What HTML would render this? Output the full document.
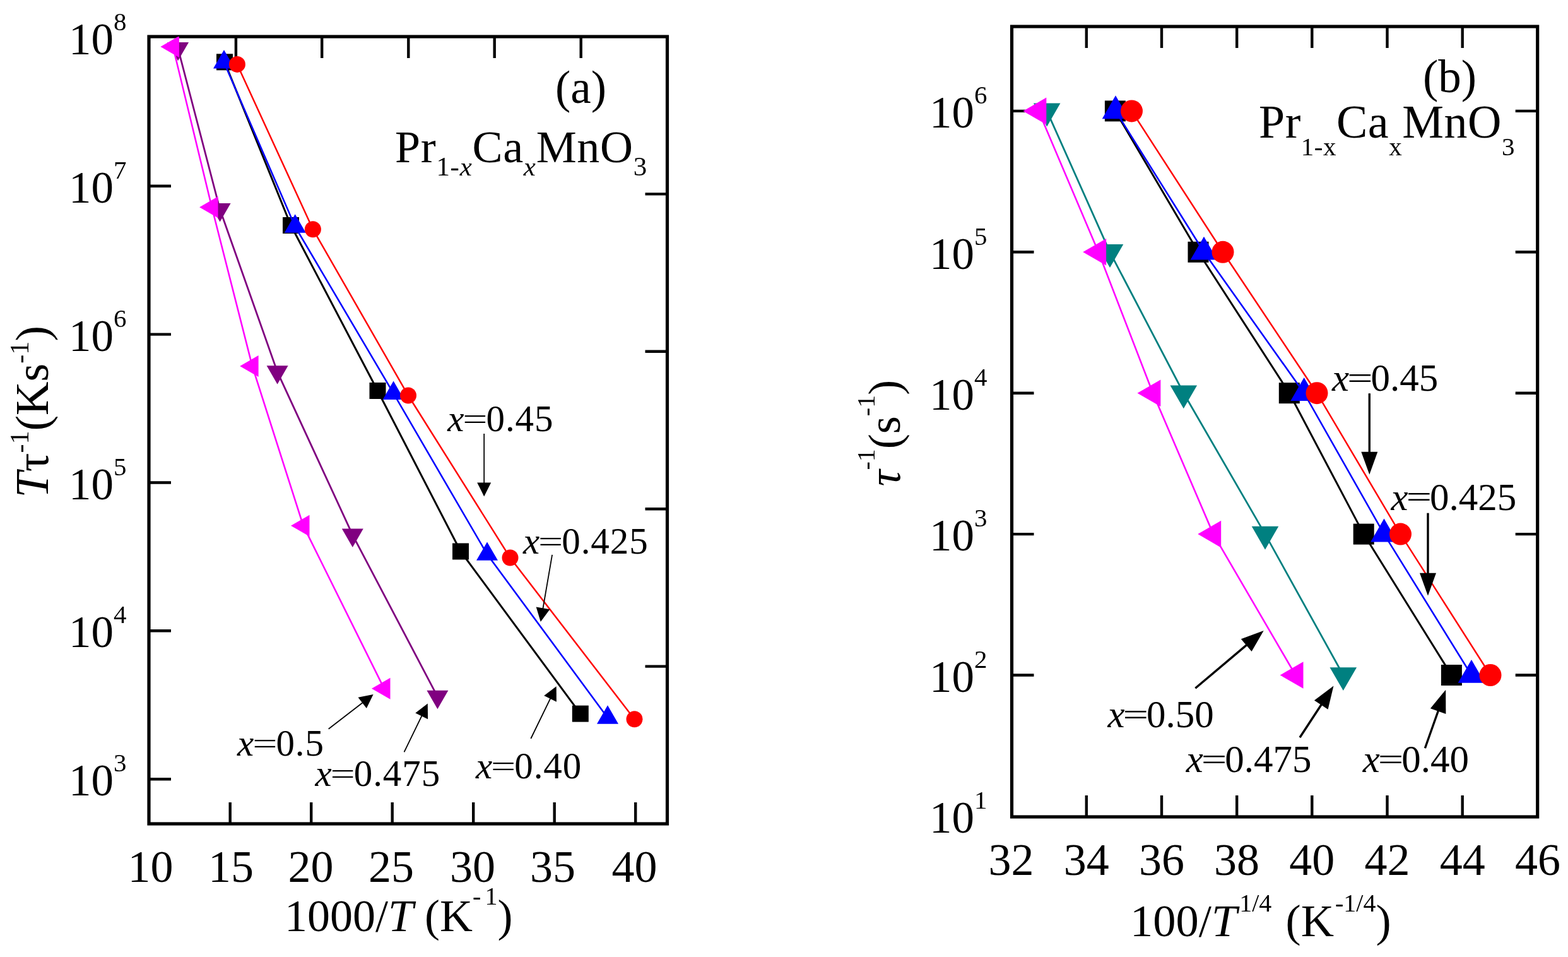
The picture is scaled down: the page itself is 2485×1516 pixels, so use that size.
<!DOCTYPE html>
<html><head><meta charset="utf-8"><title>Pr1-xCaxMnO3 relaxation rates</title>
<style>html,body{margin:0;padding:0;background:#fff;}svg{display:block;}</style></head>
<body>
<svg width="2485" height="1516" viewBox="0 0 2485 1516"><rect x="236" y="58" width="821.5" height="1247" fill="none" stroke="#000" stroke-width="5.2"/>
<rect x="1603.5" y="42" width="833.1999999999998" height="1252" fill="none" stroke="#000" stroke-width="5.2"/>
<g stroke="#000" stroke-width="4.4">
<line x1="364.7" y1="1305.0" x2="364.7" y2="1271.0"/>
<line x1="493.2" y1="1305.0" x2="493.2" y2="1271.0"/>
<line x1="621.7" y1="1305.0" x2="621.7" y2="1271.0"/>
<line x1="750.2" y1="1305.0" x2="750.2" y2="1271.0"/>
<line x1="878.7" y1="1305.0" x2="878.7" y2="1271.0"/>
<line x1="1007.2" y1="1305.0" x2="1007.2" y2="1271.0"/>
<line x1="373.9" y1="58.0" x2="373.9" y2="92.0"/>
<line x1="510.2" y1="58.0" x2="510.2" y2="92.0"/>
<line x1="647.3" y1="58.0" x2="647.3" y2="92.0"/>
<line x1="783.7" y1="58.0" x2="783.7" y2="92.0"/>
<line x1="920.7" y1="58.0" x2="920.7" y2="92.0"/>
<line x1="236.0" y1="294.8" x2="271.0" y2="294.8"/>
<line x1="236.0" y1="529.6" x2="271.0" y2="529.6"/>
<line x1="236.0" y1="764.5" x2="271.0" y2="764.5"/>
<line x1="236.0" y1="999.3" x2="271.0" y2="999.3"/>
<line x1="236.0" y1="1234.2" x2="271.0" y2="1234.2"/>
<line x1="1057.5" y1="307.4" x2="1022.5" y2="307.4"/>
<line x1="1057.5" y1="556.8" x2="1022.5" y2="556.8"/>
<line x1="1057.5" y1="806.2" x2="1022.5" y2="806.2"/>
<line x1="1057.5" y1="1055.6" x2="1022.5" y2="1055.6"/>
<line x1="1721.8" y1="1294.0" x2="1721.8" y2="1260.0"/>
<line x1="1721.8" y1="42.0" x2="1721.8" y2="76.0"/>
<line x1="1841.0" y1="1294.0" x2="1841.0" y2="1260.0"/>
<line x1="1841.0" y1="42.0" x2="1841.0" y2="76.0"/>
<line x1="1960.2" y1="1294.0" x2="1960.2" y2="1260.0"/>
<line x1="1960.2" y1="42.0" x2="1960.2" y2="76.0"/>
<line x1="2079.3" y1="1294.0" x2="2079.3" y2="1260.0"/>
<line x1="2079.3" y1="42.0" x2="2079.3" y2="76.0"/>
<line x1="2198.5" y1="1294.0" x2="2198.5" y2="1260.0"/>
<line x1="2198.5" y1="42.0" x2="2198.5" y2="76.0"/>
<line x1="2317.7" y1="1294.0" x2="2317.7" y2="1260.0"/>
<line x1="2317.7" y1="42.0" x2="2317.7" y2="76.0"/>
<line x1="1603.5" y1="175.9" x2="1638.5" y2="175.9"/>
<line x1="2436.7" y1="175.9" x2="2401.7" y2="175.9"/>
<line x1="1603.5" y1="399.3" x2="1638.5" y2="399.3"/>
<line x1="2436.7" y1="399.3" x2="2401.7" y2="399.3"/>
<line x1="1603.5" y1="622.7" x2="1638.5" y2="622.7"/>
<line x1="2436.7" y1="622.7" x2="2401.7" y2="622.7"/>
<line x1="1603.5" y1="846.1" x2="1638.5" y2="846.1"/>
<line x1="2436.7" y1="846.1" x2="2401.7" y2="846.1"/>
<line x1="1603.5" y1="1069.5" x2="1638.5" y2="1069.5"/>
<line x1="2436.7" y1="1069.5" x2="2401.7" y2="1069.5"/>
</g>
<g font-family="Liberation Serif, serif" font-size="72" fill="#000" text-anchor="middle">
<text x="238.5" y="1397">10</text>
<text x="366" y="1397">15</text>
<text x="492.5" y="1397">20</text>
<text x="620" y="1397">25</text>
<text x="749" y="1397">30</text>
<text x="876" y="1397">35</text>
<text x="1005.6" y="1397">40</text>
<text x="1602.6" y="1386">32</text>
<text x="1721.8" y="1386">34</text>
<text x="1841.0" y="1386">36</text>
<text x="1960.1" y="1386">38</text>
<text x="2079.3" y="1386">40</text>
<text x="2198.5" y="1386">42</text>
<text x="2317.7" y="1386">44</text>
<text x="2436.9" y="1386">46</text>
</g>
<text x="109" y="86.0" font-family="Liberation Serif, serif" font-size="71">10<tspan font-size="41" dy="-38">8</tspan></text>
<text x="109" y="320.8" font-family="Liberation Serif, serif" font-size="71">10<tspan font-size="41" dy="-38">7</tspan></text>
<text x="109" y="555.6" font-family="Liberation Serif, serif" font-size="71">10<tspan font-size="41" dy="-38">6</tspan></text>
<text x="109" y="790.5" font-family="Liberation Serif, serif" font-size="71">10<tspan font-size="41" dy="-38">5</tspan></text>
<text x="109" y="1025.3" font-family="Liberation Serif, serif" font-size="71">10<tspan font-size="41" dy="-38">4</tspan></text>
<text x="109" y="1260.2" font-family="Liberation Serif, serif" font-size="71">10<tspan font-size="41" dy="-38">3</tspan></text>
<text x="1473" y="202.2" font-family="Liberation Serif, serif" font-size="71">10<tspan font-size="41" dy="-38">6</tspan></text>
<text x="1473" y="425.6" font-family="Liberation Serif, serif" font-size="71">10<tspan font-size="41" dy="-38">5</tspan></text>
<text x="1473" y="649.0" font-family="Liberation Serif, serif" font-size="71">10<tspan font-size="41" dy="-38">4</tspan></text>
<text x="1473" y="872.4" font-family="Liberation Serif, serif" font-size="71">10<tspan font-size="41" dy="-38">3</tspan></text>
<text x="1473" y="1095.8" font-family="Liberation Serif, serif" font-size="71">10<tspan font-size="41" dy="-38">2</tspan></text>
<text x="1473" y="1319.2" font-family="Liberation Serif, serif" font-size="71">10<tspan font-size="41" dy="-38">1</tspan></text>
<clipPath id="ca"><rect x="236" y="58" width="821.5" height="1247"/></clipPath>
<clipPath id="cb"><rect x="1603.5" y="42" width="833.1999999999998" height="1252"/></clipPath>
<g clip-path="url(#ca)">
<polyline points="356.0,98.3 461.0,357.0 598.5,619.0 730.0,873.5 919.8,1130.6" fill="none" stroke="#000000" stroke-width="3.0"/>
<rect x="343.0" y="85.3" width="26" height="26" fill="#000000"/>
<rect x="448.0" y="344.0" width="26" height="26" fill="#000000"/>
<rect x="585.5" y="606.0" width="26" height="26" fill="#000000"/>
<rect x="717.0" y="860.5" width="26" height="26" fill="#000000"/>
<rect x="906.8" y="1117.6" width="26" height="26" fill="#000000"/>
<polyline points="355.0,98.7 467.7,358.9 623.6,623.2 772.0,878.0 963.0,1136.9" fill="none" stroke="#0000ff" stroke-width="2.6"/>
<polygon points="355.0,79.1 338.0,108.5 372.0,108.5" fill="#0000ff"/>
<polygon points="467.7,339.3 450.7,368.7 484.7,368.7" fill="#0000ff"/>
<polygon points="623.6,603.6 606.6,633.0 640.6,633.0" fill="#0000ff"/>
<polygon points="772.0,858.4 755.0,887.8 789.0,887.8" fill="#0000ff"/>
<polygon points="963.0,1117.3 946.0,1146.7 980.0,1146.7" fill="#0000ff"/>
<polyline points="375.9,101.9 495.9,363.2 647.0,626.5 808.5,883.5 1005.5,1139.3" fill="none" stroke="#ff0000" stroke-width="2.5"/>
<circle cx="375.9" cy="101.9" r="13.0" fill="#ff0000"/>
<circle cx="495.9" cy="363.2" r="13.0" fill="#ff0000"/>
<circle cx="647.0" cy="626.5" r="13.0" fill="#ff0000"/>
<circle cx="808.5" cy="883.5" r="13.0" fill="#ff0000"/>
<circle cx="1005.5" cy="1139.3" r="13.0" fill="#ff0000"/>
<polyline points="282.1,76.7 348.6,331.8 439.6,589.1 558.8,847.4 693.4,1103.6" fill="none" stroke="#800080" stroke-width="2.8"/>
<polygon points="282.1,96.3 265.1,66.9 299.1,66.9" fill="#800080"/>
<polygon points="348.6,351.4 331.6,322.0 365.6,322.0" fill="#800080"/>
<polygon points="439.6,608.7 422.6,579.3 456.6,579.3" fill="#800080"/>
<polygon points="558.8,867.1 541.8,837.6 575.8,837.6" fill="#800080"/>
<polygon points="693.4,1123.2 676.4,1093.8 710.4,1093.8" fill="#800080"/>
<polyline points="274.1,74.0 335.7,328.2 399.8,579.9 480.6,832.7 608.7,1090.7" fill="none" stroke="#ff00ff" stroke-width="2.6"/>
<polygon points="254.4,74.0 283.9,57.0 283.9,91.0" fill="#ff00ff"/>
<polygon points="316.1,328.2 345.5,311.2 345.5,345.2" fill="#ff00ff"/>
<polygon points="380.2,579.9 409.6,562.9 409.6,596.9" fill="#ff00ff"/>
<polygon points="461.0,832.7 490.5,815.7 490.5,849.7" fill="#ff00ff"/>
<polygon points="589.0,1090.7 618.5,1073.7 618.5,1107.7" fill="#ff00ff"/>
</g>
<g clip-path="url(#cb)">
<polyline points="1767.4,175.9 1899.0,399.3 2043.3,622.7 2161.2,846.1 2300.4,1069.5" fill="none" stroke="#000000" stroke-width="3.0"/>
<rect x="1750.9" y="159.4" width="33" height="33" fill="#000000"/>
<rect x="1882.5" y="382.8" width="33" height="33" fill="#000000"/>
<rect x="2026.8" y="606.2" width="33" height="33" fill="#000000"/>
<rect x="2144.7" y="829.6" width="33" height="33" fill="#000000"/>
<rect x="2283.9" y="1053.0" width="33" height="33" fill="#000000"/>
<polyline points="1768.0,175.9 1908.0,399.3 2066.7,622.7 2193.5,846.1 2332.0,1069.5" fill="none" stroke="#0000ff" stroke-width="2.6"/>
<polygon points="1768.0,151.3 1746.7,188.2 1789.3,188.2" fill="#0000ff"/>
<polygon points="1908.0,374.7 1886.7,411.6 1929.3,411.6" fill="#0000ff"/>
<polygon points="2066.7,598.1 2045.4,635.0 2088.0,635.0" fill="#0000ff"/>
<polygon points="2193.5,821.5 2172.2,858.4 2214.8,858.4" fill="#0000ff"/>
<polygon points="2332.0,1044.9 2310.7,1081.8 2353.3,1081.8" fill="#0000ff"/>
<polyline points="1793.5,175.9 1938.0,399.3 2087.0,622.7 2219.5,846.1 2362.0,1069.5" fill="none" stroke="#ff0000" stroke-width="2.5"/>
<circle cx="1793.5" cy="175.9" r="17.5" fill="#ff0000"/>
<circle cx="1938.0" cy="399.3" r="17.5" fill="#ff0000"/>
<circle cx="2087.0" cy="622.7" r="17.5" fill="#ff0000"/>
<circle cx="2219.5" cy="846.1" r="17.5" fill="#ff0000"/>
<circle cx="2362.0" cy="1069.5" r="17.5" fill="#ff0000"/>
<polyline points="1659.2,175.9 1759.0,399.3 1875.8,622.7 2005.0,846.1 2128.8,1069.5" fill="none" stroke="#008080" stroke-width="2.8"/>
<polygon points="1659.2,200.5 1637.9,163.6 1680.5,163.6" fill="#008080"/>
<polygon points="1759.0,423.9 1737.7,387.0 1780.3,387.0" fill="#008080"/>
<polygon points="1875.8,647.3 1854.5,610.4 1897.1,610.4" fill="#008080"/>
<polygon points="2005.0,870.7 1983.7,833.8 2026.3,833.8" fill="#008080"/>
<polygon points="2128.8,1094.1 2107.5,1057.2 2150.1,1057.2" fill="#008080"/>
<polyline points="1646.0,175.9 1740.8,399.3 1827.1,622.7 1922.9,846.1 2053.2,1069.5" fill="none" stroke="#ff00ff" stroke-width="2.6"/>
<polygon points="1621.4,175.9 1658.3,154.6 1658.3,197.2" fill="#ff00ff"/>
<polygon points="1716.2,399.3 1753.1,378.0 1753.1,420.6" fill="#ff00ff"/>
<polygon points="1802.5,622.7 1839.4,601.4 1839.4,644.0" fill="#ff00ff"/>
<polygon points="1898.3,846.1 1935.2,824.8 1935.2,867.4" fill="#ff00ff"/>
<polygon points="2028.6,1069.5 2065.5,1048.2 2065.5,1090.8" fill="#ff00ff"/>
</g>
<line x1="767.2" y1="687.0" x2="767.2" y2="766.5" stroke="#000" stroke-width="1.8"/><polygon points="767.2,786.5 756.2,764.5 778.2,764.5" fill="#000"/>
<line x1="875.1" y1="878.9" x2="860.2" y2="965.4" stroke="#000" stroke-width="1.8"/><polygon points="856.8,985.1 849.7,961.6 871.4,965.3" fill="#000"/>
<line x1="841.3" y1="1170.0" x2="872.9" y2="1105.2" stroke="#000" stroke-width="1.8"/><polygon points="881.7,1087.2 881.9,1111.8 862.2,1102.1" fill="#000"/>
<line x1="640.5" y1="1191.3" x2="669.1" y2="1132.6" stroke="#000" stroke-width="1.8"/><polygon points="677.8,1114.6 678.1,1139.2 658.3,1129.6" fill="#000"/>
<line x1="520.7" y1="1154.7" x2="575.8" y2="1112.2" stroke="#000" stroke-width="1.8"/><polygon points="591.6,1100.0 580.9,1122.1 567.5,1104.7" fill="#000"/>
<line x1="2170.3" y1="623.2" x2="2170.3" y2="717.7" stroke="#000" stroke-width="3.4"/><polygon points="2170.3,751.7 2157.3,715.7 2183.3,715.7" fill="#000"/>
<line x1="2263.0" y1="812.7" x2="2263.0" y2="909.7" stroke="#000" stroke-width="3.4"/><polygon points="2263.0,943.7 2250.0,907.7 2276.0,907.7" fill="#000"/>
<line x1="1894.4" y1="1090.3" x2="1976.7" y2="1020.9" stroke="#000" stroke-width="3.4"/><polygon points="2002.7,999.0 1983.6,1032.1 1966.8,1012.3" fill="#000"/>
<line x1="2060.0" y1="1168.2" x2="2094.9" y2="1115.0" stroke="#000" stroke-width="3.4"/><polygon points="2113.5,1086.6 2104.6,1123.8 2082.9,1109.6" fill="#000"/>
<line x1="2258.4" y1="1185.2" x2="2279.8" y2="1124.7" stroke="#000" stroke-width="3.4"/><polygon points="2291.2,1092.7 2291.4,1131.0 2266.9,1122.3" fill="#000"/>
<text x="709.2" y="682.9" font-family="Liberation Serif, serif" font-size="59" font-style="italic">x</text><text transform="translate(752.9,663.3) scale(1.18,0.8)" x="0" y="19.6" text-anchor="middle" font-family="Liberation Serif, serif" font-size="59">=</text><text x="770.5" y="682.9" font-family="Liberation Serif, serif" font-size="59" letter-spacing="0.9">0.45</text>
<text x="829" y="877" font-family="Liberation Serif, serif" font-size="59" font-style="italic">x</text><text transform="translate(872.7,857.4) scale(1.18,0.8)" x="0" y="19.6" text-anchor="middle" font-family="Liberation Serif, serif" font-size="59">=</text><text x="890.3" y="877" font-family="Liberation Serif, serif" font-size="59" letter-spacing="0.9">0.425</text>
<text x="754" y="1233.2" font-family="Liberation Serif, serif" font-size="59" font-style="italic">x</text><text transform="translate(797.7,1213.6) scale(1.18,0.8)" x="0" y="19.6" text-anchor="middle" font-family="Liberation Serif, serif" font-size="59">=</text><text x="815.3" y="1233.2" font-family="Liberation Serif, serif" font-size="59" letter-spacing="0.9">0.40</text>
<text x="376.1" y="1197.1" font-family="Liberation Serif, serif" font-size="59" font-style="italic">x</text><text transform="translate(419.8,1177.5) scale(1.18,0.8)" x="0" y="19.6" text-anchor="middle" font-family="Liberation Serif, serif" font-size="59">=</text><text x="437.4" y="1197.1" font-family="Liberation Serif, serif" font-size="59" letter-spacing="0.9">0.5</text>
<text x="499.5" y="1245.3" font-family="Liberation Serif, serif" font-size="59" font-style="italic">x</text><text transform="translate(543.2,1225.7) scale(1.18,0.8)" x="0" y="19.6" text-anchor="middle" font-family="Liberation Serif, serif" font-size="59">=</text><text x="560.8" y="1245.3" font-family="Liberation Serif, serif" font-size="59" letter-spacing="0.9">0.475</text>
<text x="2111.1" y="619.3" font-family="Liberation Serif, serif" font-size="61" font-style="italic">x</text><text transform="translate(2155.4,599.0) scale(1.18,0.8)" x="0" y="20.3" text-anchor="middle" font-family="Liberation Serif, serif" font-size="61">=</text><text x="2172.6" y="619.3" font-family="Liberation Serif, serif" font-size="61" letter-spacing="0">0.45</text>
<text x="2204.6" y="807.5" font-family="Liberation Serif, serif" font-size="61" font-style="italic">x</text><text transform="translate(2248.9,787.2) scale(1.18,0.8)" x="0" y="20.3" text-anchor="middle" font-family="Liberation Serif, serif" font-size="61">=</text><text x="2266.1" y="807.5" font-family="Liberation Serif, serif" font-size="61" letter-spacing="0">0.425</text>
<text x="1755.6" y="1152.4" font-family="Liberation Serif, serif" font-size="61" font-style="italic">x</text><text transform="translate(1799.9,1132.1) scale(1.18,0.8)" x="0" y="20.3" text-anchor="middle" font-family="Liberation Serif, serif" font-size="61">=</text><text x="1817.1" y="1152.4" font-family="Liberation Serif, serif" font-size="61" letter-spacing="0">0.50</text>
<text x="1879.7" y="1223" font-family="Liberation Serif, serif" font-size="61" font-style="italic">x</text><text transform="translate(1924.0,1202.7) scale(1.18,0.8)" x="0" y="20.3" text-anchor="middle" font-family="Liberation Serif, serif" font-size="61">=</text><text x="1941.2" y="1223" font-family="Liberation Serif, serif" font-size="61" letter-spacing="0">0.475</text>
<text x="2159.8" y="1223" font-family="Liberation Serif, serif" font-size="61" font-style="italic">x</text><text transform="translate(2204.1,1202.7) scale(1.18,0.8)" x="0" y="20.3" text-anchor="middle" font-family="Liberation Serif, serif" font-size="61">=</text><text x="2221.3" y="1223" font-family="Liberation Serif, serif" font-size="61" letter-spacing="0">0.40</text>
<text x="880" y="163" font-family="Liberation Serif, serif" font-size="73">(a)</text>
<text x="2255" y="146.3" font-family="Liberation Serif, serif" font-size="73">(b)</text>
<text x="626" y="257.4" font-family="Liberation Serif, serif" font-size="72" letter-spacing="0.7">Pr<tspan font-size="43" dy="21">1-<tspan font-style="italic">x</tspan></tspan><tspan dy="-21">Ca</tspan><tspan font-size="43" dy="21" font-style="italic">x</tspan><tspan dy="-21">MnO</tspan><tspan font-size="43" dy="21">3</tspan></text>
<text x="1995" y="218.1" font-family="Liberation Serif, serif" font-size="74" letter-spacing="0.5">Pr<tspan font-size="41" dy="28">1-x</tspan><tspan dy="-28">Ca</tspan><tspan font-size="41" dy="28">x</tspan><tspan dy="-28">MnO</tspan><tspan font-size="41" dy="28">3</tspan></text>
<text x="451" y="1475" font-family="Liberation Serif, serif" font-size="72">1000/<tspan font-style="italic">T</tspan> (K<tspan font-size="40" dy="-42">-</tspan><tspan font-size="40" dx="6">1</tspan><tspan dy="42">)</tspan></text>
<text x="1791" y="1482.9" font-family="Liberation Serif, serif" font-size="72.5">100/<tspan font-style="italic">T</tspan><tspan font-size="40" dy="-39" dx="4">1/4</tspan><tspan dy="39" dx="4"> (K</tspan><tspan font-size="40" dy="-39" dx="2">-1/4</tspan><tspan dy="39">)</tspan></text>
<text transform="translate(75.6,788.5) rotate(-90)" font-family="Liberation Serif, serif" font-size="74"><tspan font-style="italic">T</tspan>τ<tspan font-size="42" dy="-31">-1</tspan><tspan dy="31">(Ks</tspan><tspan font-size="42" dy="-31">-1</tspan><tspan dy="31">)</tspan></text>
<text transform="translate(1425.9,770.3) rotate(-90)" font-family="Liberation Serif, serif" font-size="72"><tspan font-style="italic">τ</tspan><tspan font-size="40" dy="-40">-1</tspan><tspan dy="40">(s</tspan><tspan font-size="40" dy="-40">-1</tspan><tspan dy="40">)</tspan></text></svg>
</body></html>
